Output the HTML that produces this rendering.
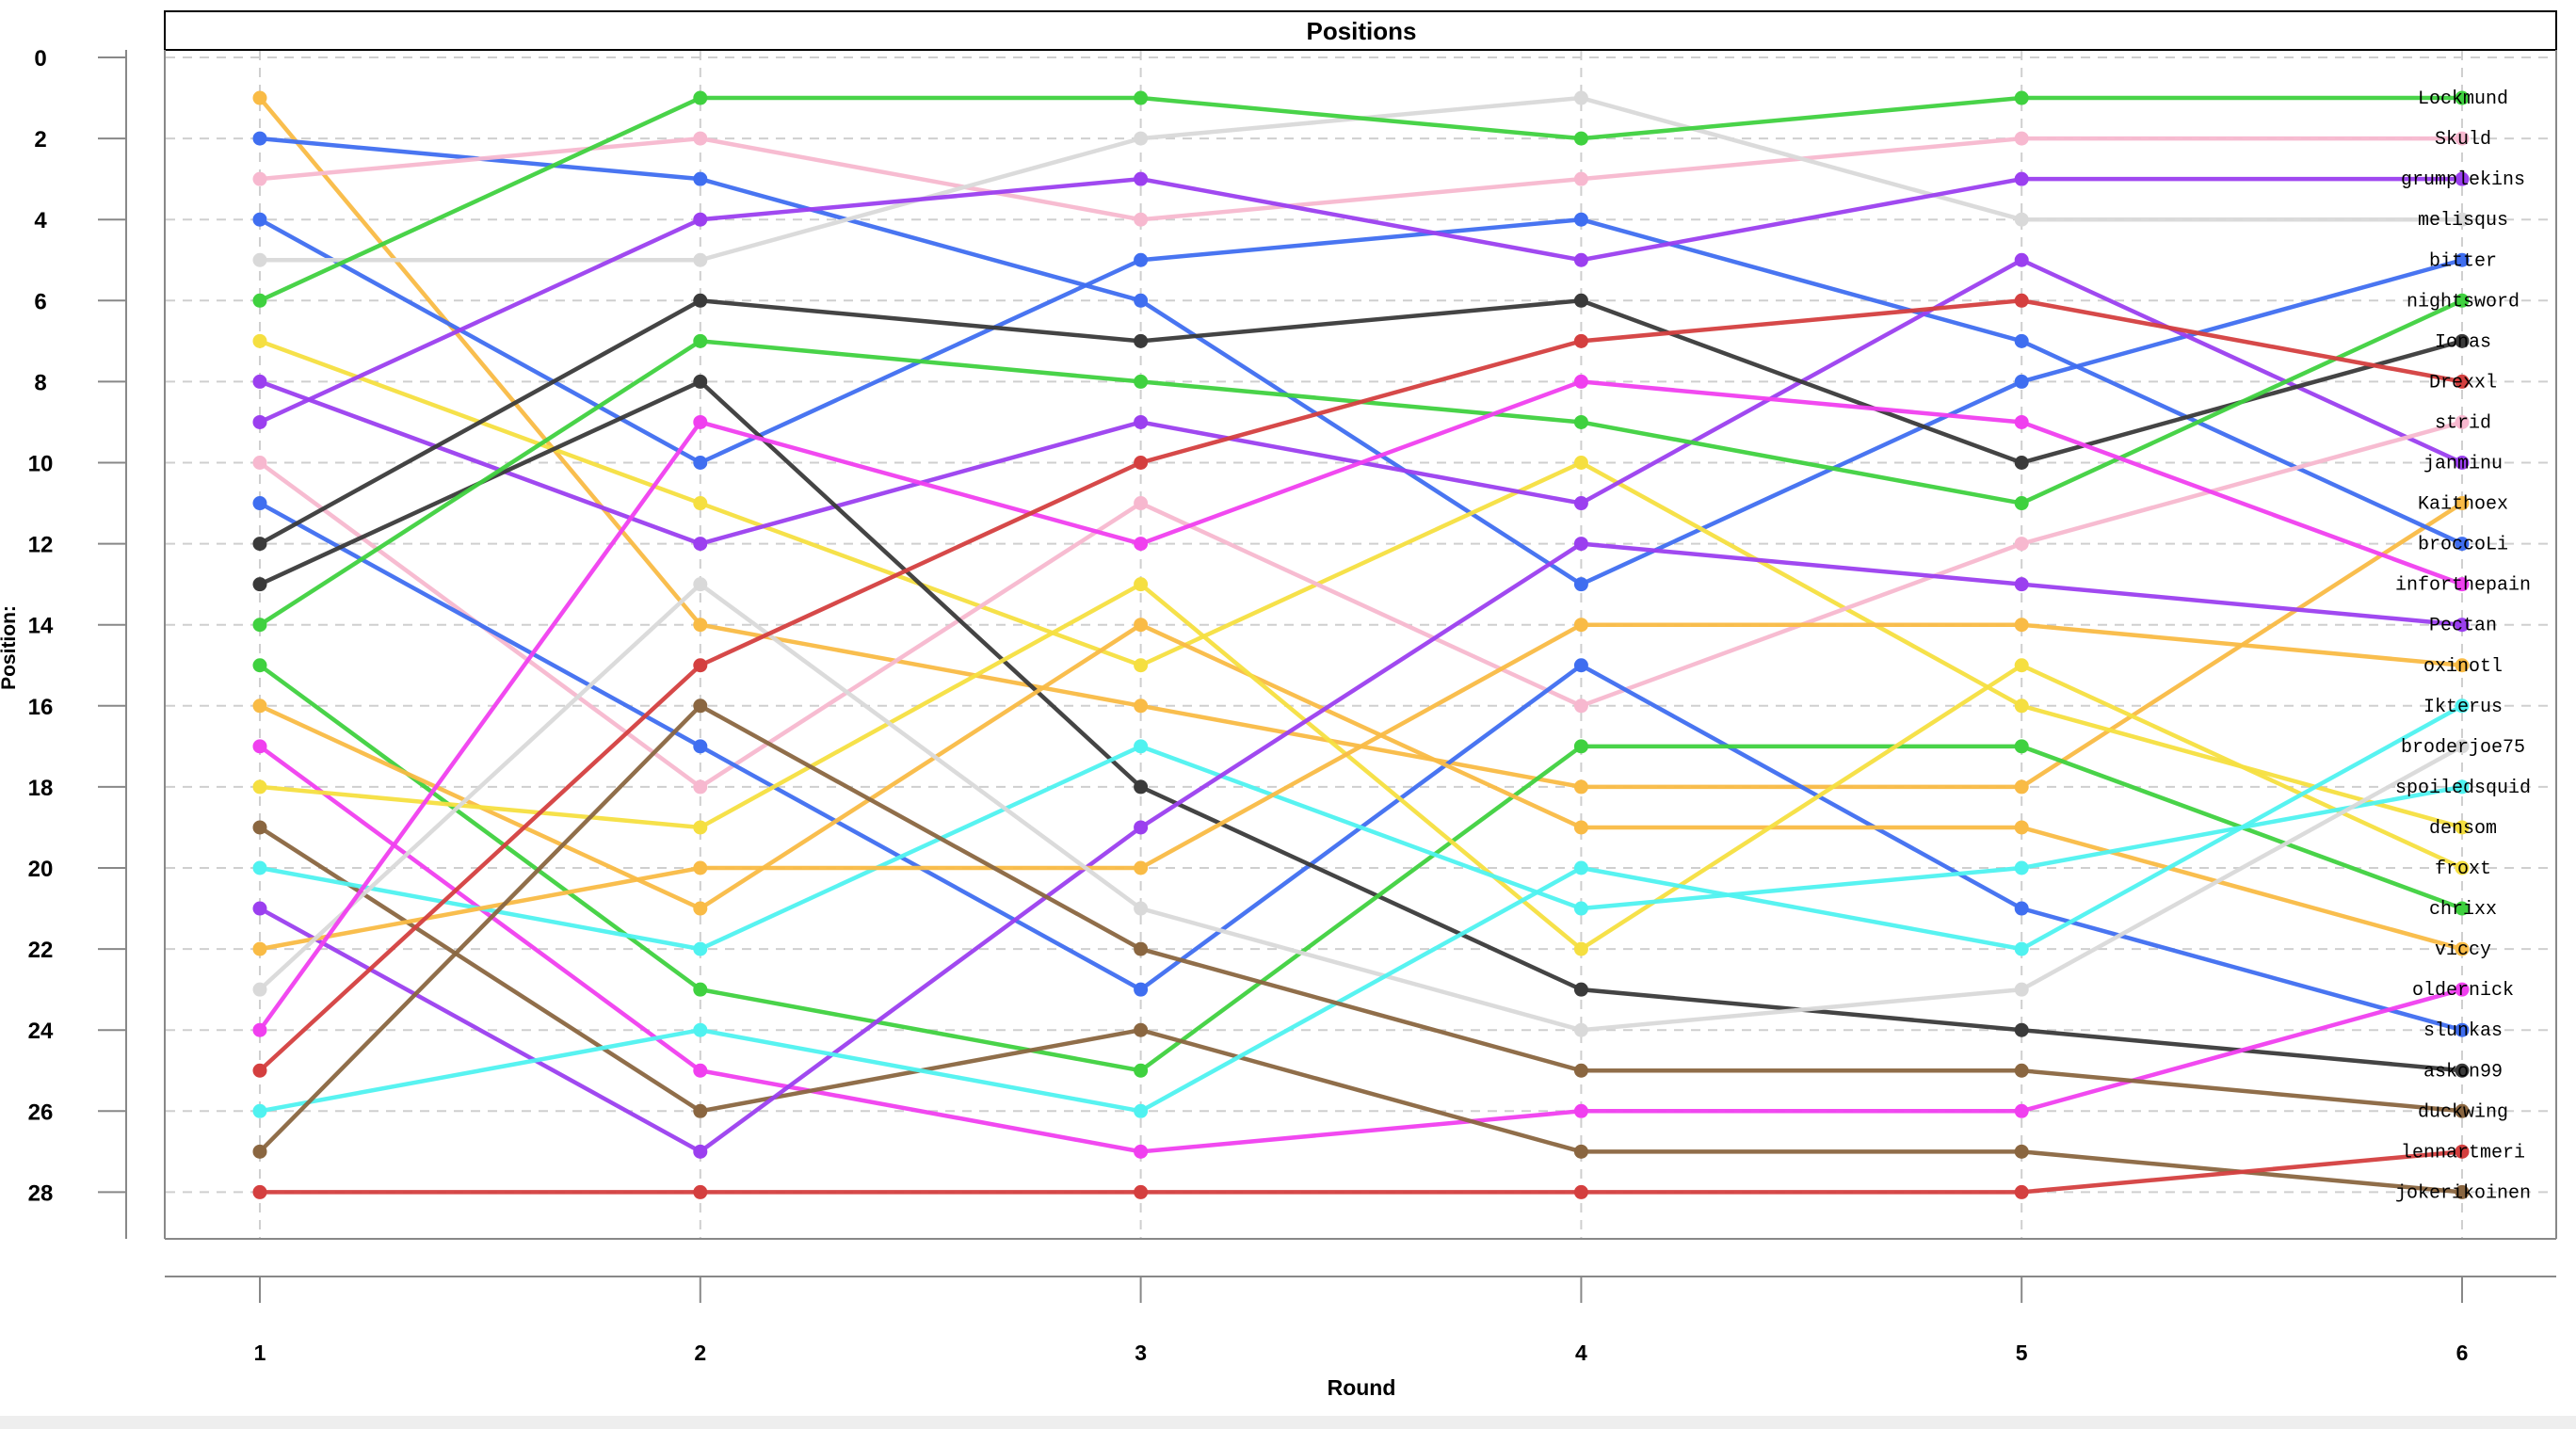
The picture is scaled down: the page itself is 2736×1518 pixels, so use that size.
<!DOCTYPE html>
<html><head><meta charset="utf-8"><style>
html,body{margin:0;padding:0;background:#fff;}
svg{display:block;}
</style></head><body>
<svg id="s" width="2736" height="1518" xmlns="http://www.w3.org/2000/svg">
<rect x="0" y="1504" width="2736" height="14" fill="#eeeeee"/>
<rect x="175" y="12" width="2540" height="41" fill="#fff" stroke="#000" stroke-width="2"/>
<text x="1446" y="42" text-anchor="middle" font-family="Liberation Sans, sans-serif" font-weight="bold" font-size="26">Positions</text>
<line x1="175" y1="53" x2="175" y2="1316" stroke="#888" stroke-width="2"/>
<line x1="2715" y1="53" x2="2715" y2="1316" stroke="#888" stroke-width="2"/>
<line x1="175" y1="1316" x2="2715" y2="1316" stroke="#888" stroke-width="2"/>
<g id="grid"></g>
<g id="axes"></g>
<g id="series"></g>
<g id="labels" font-family="Liberation Mono, monospace" font-size="20" fill="#000" text-anchor="middle"></g>
<text x="1446" y="1482" text-anchor="middle" font-family="Liberation Sans, sans-serif" font-weight="bold" font-size="23">Round</text>
<text transform="translate(16,688) rotate(-90)" text-anchor="middle" font-family="Liberation Sans, sans-serif" font-weight="bold" font-size="21">Position:</text>
</svg>
<script>
var NS="http://www.w3.org/2000/svg";
function X(r){return 276+(r-1)*467.8;}
function Y(p){return 61+p*43.05;}
function el(t,a,p){var e=document.createElementNS(NS,t);for(var k in a)e.setAttribute(k,a[k]);p.appendChild(e);return e;}
var g=document.getElementById('grid'),ax=document.getElementById('axes'),sg=document.getElementById('series'),lg=document.getElementById('labels');
for(var p=0;p<=28;p+=2){el('line',{x1:176,y1:Y(p),x2:2714,y2:Y(p),stroke:'#cfcfcf','stroke-width':2,'stroke-dasharray':'10,8'},g);
 el('line',{x1:104,y1:Y(p),x2:134,y2:Y(p),stroke:'#888','stroke-width':2},ax);
 var t=el('text',{x:43,y:Y(p)+9,'text-anchor':'middle','font-family':'Liberation Sans, sans-serif','font-weight':'bold','font-size':24},ax);t.textContent=p;}
el('line',{x1:134,y1:Y(0)-8,x2:134,y2:1316,stroke:'#888','stroke-width':2},ax);
el('line',{x1:175,y1:1356,x2:2715,y2:1356,stroke:'#888','stroke-width':2},ax);
for(var r=1;r<=6;r++){el('line',{x1:X(r),y1:54,x2:X(r),y2:1315,stroke:'#cfcfcf','stroke-width':2,'stroke-dasharray':'10,8'},g);
 el('line',{x1:X(r),y1:1356,x2:X(r),y2:1384,stroke:'#888','stroke-width':2},ax);
 var t=el('text',{x:X(r),y:1445,'text-anchor':'middle','font-family':'Liberation Sans, sans-serif','font-weight':'bold','font-size':23},ax);t.textContent=r;}
var C={green:'#3fd13f',pink:'#f7b8cf',purple:'#9b3fef',gray:'#d9d9d9',blue:'#3f6ef0',black:'#3a3a3a',red:'#d43f3f',magenta:'#f03fef',orange:'#f9bb45',yellow:'#f5df40',cyan:'#4ff2f0',brown:'#8a6640'};
var D=[
['Kaithoex','orange',[1,14,16,18,18,11]],
['bitter','blue',[2,3,6,13,8,5]],
['Skuld','pink',[3,2,4,3,2,2]],
['broccoLi','blue',[4,10,5,4,7,12]],
['melisqus','gray',[5,5,2,1,4,4]],
['Lockmund','green',[6,1,1,2,1,1]],
['densom','yellow',[7,11,15,10,16,19]],
['janminu','purple',[8,12,9,11,5,10]],
['grumplekins','purple',[9,4,3,5,3,3]],
['strid','pink',[10,18,11,16,12,9]],
['slunkas','blue',[11,17,23,15,21,24]],
['Ionas','black',[12,6,7,6,10,7]],
['askon99','black',[13,8,18,23,24,25]],
['nightsword','green',[14,7,8,9,11,6]],
['chrixx','green',[15,23,25,17,17,21]],
['viccy','orange',[16,21,14,19,19,22]],
['oldernick','magenta',[17,25,27,26,26,23]],
['froxt','yellow',[18,19,13,22,15,20]],
['jokerikoinen','brown',[19,26,24,27,27,28]],
['spoiledsquid','cyan',[20,22,17,21,20,18]],
['Pectan','purple',[21,27,19,12,13,14]],
['oxinotl','orange',[22,20,20,14,14,15]],
['broderjoe75','gray',[23,13,21,24,23,17]],
['inforthepain','magenta',[24,9,12,8,9,13]],
['Drexxl','red',[25,15,10,7,6,8]],
['Ikterus','cyan',[26,24,26,20,22,16]],
['duckwing','brown',[27,16,22,25,25,26]],
['lennartmeri','red',[28,28,28,28,28,27]]];
D.forEach(function(d){var c=C[d[1]],pts=d[2].map(function(p,i){return X(i+1)+','+Y(p);}).join(' ');
 el('polyline',{points:pts,fill:'none',stroke:c,'stroke-width':4.5,'stroke-opacity':0.95},sg);
 d[2].forEach(function(p,i){el('circle',{cx:X(i+1),cy:Y(p),r:7.5,fill:c},sg);});
 var t=el('text',{x:X(6)+1,y:Y(d[2][5])+6},lg);t.textContent=d[0];});
</script>
</body></html>
